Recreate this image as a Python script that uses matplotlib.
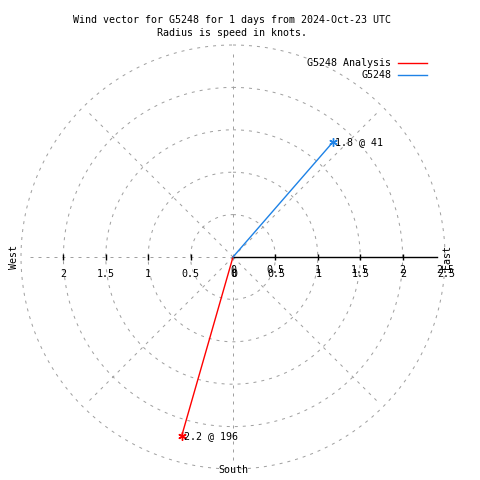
import numpy as np
import matplotlib
matplotlib.use("Agg")
import matplotlib.pyplot as plt
from matplotlib.lines import Line2D
from matplotlib.transforms import offset_copy

# Daten
serien = ["G5248 Analysis", "G5248"]
richtung = [196, 41]          # Grad, 0 = Nord, im Uhrzeigersinn
speed = [2.2, 1.8]            # Knoten
farben = ["#ff0000", "#1e82e6"]
ringe = [0.5, 1.0, 1.5, 2.0, 2.5]
tick_werte = [0, 0.5, 1, 1.5, 2, 2.5]
tick_links = [2, 1.5, 1, 0.5, 0]
tick_links_text = ["2", "1.5", "1", "0.5", "0"]
tick_rechts_text = ["0", "0.5", "1", "1.5", "2", "2.5"]

plt.rcParams['font.family'] = ['DejaVu Sans Mono']
fs = 7.2
grau = "#a0a0a0"
dash = (0, (3, 5))

fig = plt.figure(figsize=(4.8, 4.8), dpi=100)
ax = fig.add_axes([(233 - 212) / 480, (223 - 212) / 480, 424 / 480, 424 / 480],
                  projection='polar')
ax.set_theta_zero_location('N')
ax.set_theta_direction(-1)
ax.set_ylim(0, 2.5)
ax.grid(False)
ax.set_xticks([])
ax.set_yticks([])
ax.spines['polar'].set_visible(False)
ax.patch.set_alpha(0)

# Gitter: Kreise und Radiallinien
theta = np.linspace(0, 2 * np.pi, 400)
for r in ringe:
    ax.plot(theta, [r] * len(theta), color=grau, lw=0.72, ls=dash, clip_on=False)
for w in range(0, 360, 45):
    if w == 90:
        continue
    ax.plot([np.radians(w)] * 2, [0, 2.45], color=grau, lw=0.72, ls=dash, clip_on=False)

# Achse nach Osten
ost = np.radians(90)
west = np.radians(270)
ax.plot([ost, ost], [0, 2.4], color="black", lw=1.0, clip_on=False)
for r in [0.5, 1, 1.5, 2]:
    ax.plot([ost], [r], marker='|', ms=5, mew=1.0, color="black", clip_on=False)
    ax.plot([west], [r], marker='|', ms=5, mew=1.0, color="black", clip_on=False)

# Achsenbeschriftung (rechts doppelt, wie im Original)
tr1 = offset_copy(ax.transData, fig=fig, x=0, y=-13, units='dots')
tr2 = offset_copy(ax.transData, fig=fig, x=1, y=-17, units='dots')
tr3 = offset_copy(ax.transData, fig=fig, x=0, y=-17, units='dots')
for v, t in zip(tick_werte, tick_rechts_text):
    ax.text(ost, v, t, transform=tr1, ha='center', va='center', fontsize=fs)
    ax.text(ost, v, t, transform=tr2, ha='center', va='center', fontsize=fs)
for v, t in zip(tick_links, tick_links_text):
    ax.text(west, v, t, transform=tr3, ha='center', va='center', fontsize=fs)

fig.text(447 / 480, 1 - 257 / 480, "East", rotation=90, ha='center', va='center', fontsize=fs)
fig.text(14 / 480, 1 - 257 / 480, "West", rotation=90, ha='center', va='center', fontsize=fs)
fig.text(233 / 480, 1 - 470 / 480, "South", ha='center', va='center', fontsize=fs)

# Vektoren
for d, s, c in zip(richtung, speed, farben):
    th = np.radians(d)
    ax.plot([0, th], [0, s], color=c, lw=1.0, clip_on=False)
    ax.plot([th], [s], marker=(6, 2, 0), ms=6, mew=1.0, color=c, clip_on=False)
    trt = offset_copy(ax.transData, fig=fig, x=2, y=0, units='dots')
    ax.text(th, s, "%.1f @ %d" % (s, d), transform=trt, ha='left', va='center', fontsize=fs)

# Legende
for i, (name, c) in enumerate(zip(serien, farben)):
    y = 1 - (63 + 12 * i) / 480
    fig.text(391 / 480, y, name, ha='right', va='center', fontsize=fs)
    fig.add_artist(Line2D([398 / 480, 427 / 480], [y, y], color=c, lw=1.0,
                          transform=fig.transFigure))

# Titel
fig.text(232 / 480, 1 - 20 / 480, "Wind vector for G5248 for 1 days from 2024-Oct-23 UTC",
         ha='center', va='center', fontsize=fs)
fig.text(232 / 480, 1 - 33 / 480, "Radius is speed in knots.",
         ha='center', va='center', fontsize=fs)

fig.savefig("out.png", dpi=100)
